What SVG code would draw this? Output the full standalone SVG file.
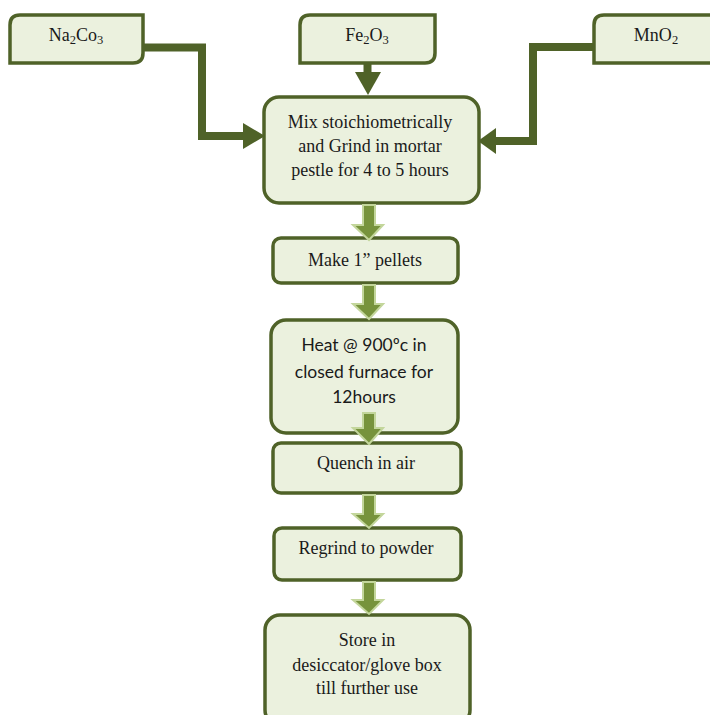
<svg xmlns="http://www.w3.org/2000/svg" width="710" height="715" viewBox="0 0 710 715">
<defs>
<style>
.box{fill:#ebf1de;stroke:#4f6228;stroke-width:3.5}
.t{font-family:"Liberation Serif","Times New Roman",serif;font-size:18px;fill:#1a1a1a;text-anchor:middle}
.s{font-family:Lato,"Liberation Sans",sans-serif;font-size:17.5px;fill:#1a1a1a;text-anchor:middle}
.sub{font-size:12.5px}
.ln{fill:none;stroke:#4f6228;stroke-width:8}
.hd{fill:#4f6228}
.ba{fill:#77933c;stroke:#c3d69b;stroke-width:2;stroke-linejoin:miter}
</style>
</defs>
<rect width="710" height="715" fill="#ffffff"/>
<g id="na2co3">
<path class="box" d="M10,63 V25 Q10,15 20,15 H143 V53 Q143,63 133,63 Z"/>
<text class="t" x="76" y="41">Na<tspan class="sub" dy="3">2</tspan><tspan dy="-3">Co</tspan><tspan class="sub" dy="3">3</tspan></text>
</g>
<g id="fe2o3">
<path class="box" d="M300,63 V25 Q300,15 310,15 H435 V53 Q435,63 425,63 Z"/>
<text class="t" x="367" y="41">Fe<tspan class="sub" dy="3">2</tspan><tspan dy="-3">O</tspan><tspan class="sub" dy="3">3</tspan></text>
</g>
<g id="mno2">
<path class="box" d="M594,63 V25 Q594,15 604,15 H720 V63 Z"/>
<text class="t" x="656" y="41">MnO<tspan class="sub" dy="3">2</tspan></text>
</g>
<g id="mix">
<rect class="box" x="264" y="97" width="215" height="106" rx="15"/>
<text class="t" x="370" y="128">Mix stoichiometrically</text>
<text class="t" x="370" y="152">and Grind in mortar</text>
<text class="t" x="370" y="176">pestle for 4 to 5 hours</text>
</g>
<g id="pellets">
<rect class="box" x="273" y="238" width="185" height="45" rx="8"/>
<text class="t" x="365" y="266">Make 1” pellets</text>
</g>
<g id="heat">
<rect class="box" x="271" y="320" width="187" height="113" rx="15"/>
<text class="s" x="364" y="351">Heat @ 900ºc in</text>
<text class="s" x="364" y="378">closed furnace for</text>
<text class="s" x="364" y="403">12hours</text>
</g>
<g id="quench">
<rect class="box" x="273" y="443" width="188" height="50" rx="8"/>
<text class="t" x="366" y="469">Quench in air</text>
</g>
<g id="regrind">
<rect class="box" x="274" y="528" width="187" height="52" rx="8"/>
<text class="t" x="366" y="554">Regrind to powder</text>
</g>
<g id="store">
<rect class="box" x="265" y="615" width="205" height="110" rx="15"/>
<text class="t" x="367" y="646">Store in</text>
<text class="t" x="367" y="671">desiccator/glove box</text>
<text class="t" x="367" y="694">till further use</text>
</g>
<g id="connectors">
<polyline class="ln" points="143,47.5 202,47.5 202,136 246,136"/>
<polygon class="hd" points="243,123 265,136 243,149"/>
<polyline class="ln" points="594,47 533,47 533,141 493,141"/>
<polygon class="hd" points="496,128 478,141 496,154"/>
<line class="ln" x1="367.5" y1="63" x2="367.5" y2="75"/>
<polygon class="hd" points="355,72 381,72 368,95"/>
<path class="ba" d="M363,205 H375 V225 H383 L369,240 L353,225 H363 Z"/>
<path class="ba" d="M363,285 H375 V304 H383 L369,319 L353,304 H363 Z"/>
<path class="ba" d="M363,413 H375 V428 H383 L369,444 L353,428 H363 Z"/>
<path class="ba" d="M363,495 H375 V514 H383 L369,528 L353,514 H363 Z"/>
<path class="ba" d="M363,582 H375 V600 H383 L369,614 L353,600 H363 Z"/>
</g>
</svg>
